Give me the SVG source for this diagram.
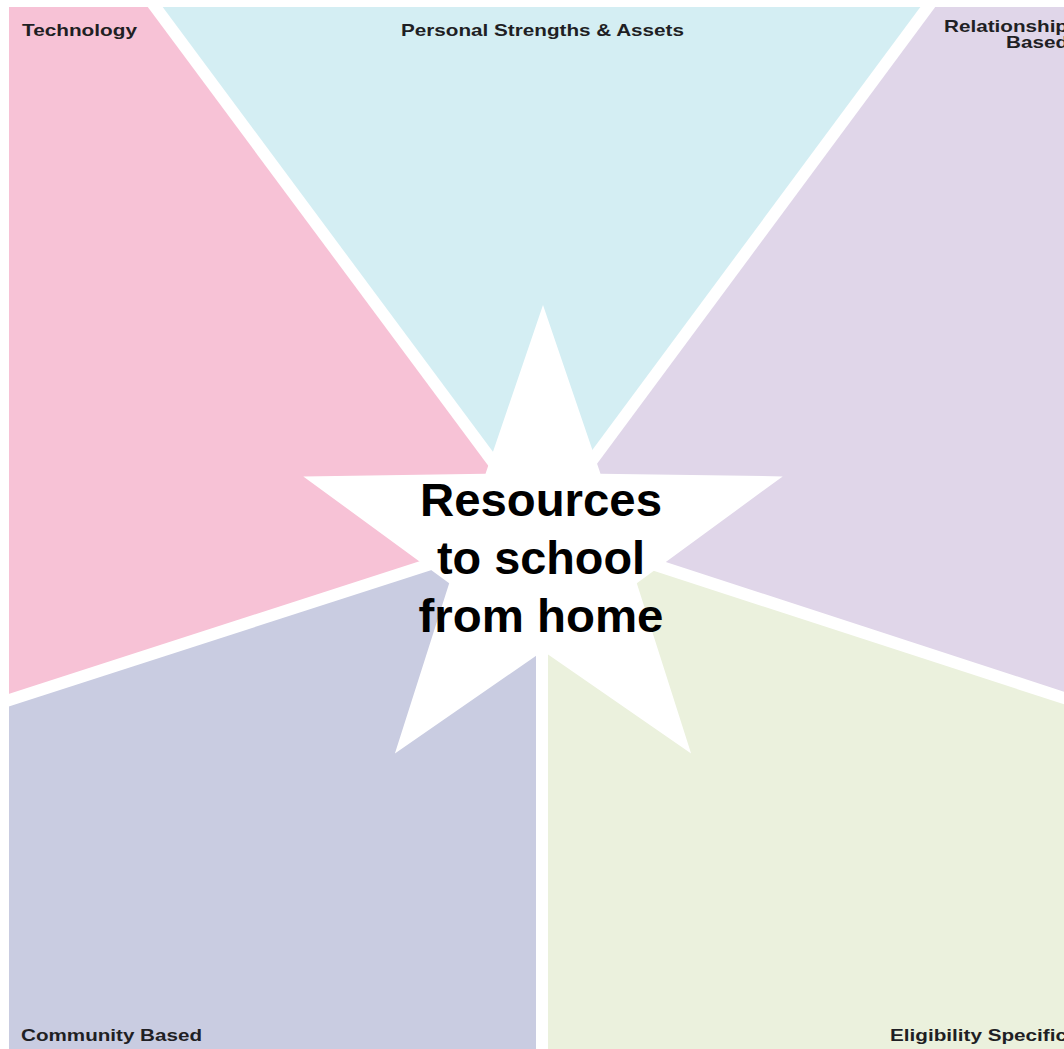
<svg xmlns="http://www.w3.org/2000/svg" width="1064" height="1049" viewBox="0 0 1064 1049">
  <style>
    .label { font-family: "Liberation Sans", Arial, sans-serif; font-weight: bold; font-size: 16.5px; fill: #1f1f24; }
    .core { font-family: "Liberation Sans", Arial, sans-serif; font-weight: bold; font-size: 47px; fill: #000000; text-anchor: middle; }
    .divider { stroke: #ffffff; stroke-width: 12; stroke-linecap: butt; fill: none; }
  </style>

  <rect width="1064" height="1049" fill="#ffffff"/>

  <!-- five coloured sectors meeting at the hub (542,528) -->
  <g id="technology">
    <polygon points="542,528 155,7 9,7 9,700" fill="#f7c2d6"/>
    <text class="label" x="22" y="36" textLength="115" lengthAdjust="spacingAndGlyphs">Technology</text>
  </g>
  <g id="personal-strengths">
    <polygon points="542,528 155,7 928,7" fill="#d4eef3"/>
    <text class="label" x="401" y="36" textLength="283" lengthAdjust="spacingAndGlyphs">Personal Strengths &amp; Assets</text>
  </g>
  <g id="relationship-based">
    <polygon points="542,528 928,7 1064,7 1064,698" fill="#e0d6e9"/>
    <text class="label" x="1068" y="32" text-anchor="end" textLength="124" lengthAdjust="spacingAndGlyphs">Relationship</text>
    <text class="label" x="1068" y="48" text-anchor="end" textLength="62" lengthAdjust="spacingAndGlyphs">Based</text>
  </g>
  <g id="eligibility-specific">
    <polygon points="542,528 1064,698 1064,1049 542,1049" fill="#ebf1dd"/>
    <text class="label" x="1067" y="1041" text-anchor="end" textLength="177" lengthAdjust="spacingAndGlyphs">Eligibility Specific</text>
  </g>
  <g id="community-based">
    <polygon points="542,528 542,1049 9,1049 9,700" fill="#c9cce1"/>
    <text class="label" x="21" y="1041" textLength="181" lengthAdjust="spacingAndGlyphs">Community Based</text>
  </g>

  <!-- white gaps between the sectors -->
  <g id="dividers">
    <line class="divider" x1="542" y1="528" x2="150" y2="0"/>
    <line class="divider" x1="542" y1="528" x2="933" y2="0"/>
    <line class="divider" x1="542" y1="528" x2="1070" y2="700"/>
    <line class="divider" x1="542" y1="528" x2="542" y2="1055"/>
    <line class="divider" x1="542" y1="528" x2="0" y2="703"/>
  </g>

  <!-- central star -->
  <g id="hub">
    <polygon points="543,305 600.5,473.7 782.7,476.4 636.8,583.3 691.1,753.6 543,651 394.9,753.6 449.2,583.3 303.3,476.4 485.5,473.7" fill="#ffffff"/>
    <text class="core" x="541" y="516" textLength="242" lengthAdjust="spacingAndGlyphs">Resources</text>
    <text class="core" x="541" y="574" textLength="208" lengthAdjust="spacingAndGlyphs">to school</text>
    <text class="core" x="541" y="632" textLength="245" lengthAdjust="spacingAndGlyphs">from home</text>
  </g>
</svg>
